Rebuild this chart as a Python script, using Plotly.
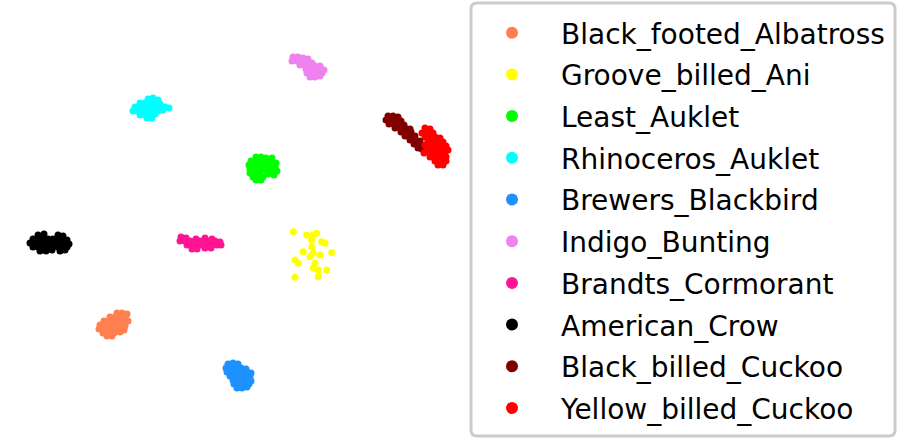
import plotly.graph_objects as go

class_names = ["Black_footed_Albatross", "Groove_billed_Ani", "Least_Auklet", "Rhinoceros_Auklet",
               "Brewers_Blackbird", "Indigo_Bunting", "Brandts_Cormorant", "American_Crow",
               "Black_billed_Cuckoo", "Yellow_billed_Cuckoo"]
class_colors = ["#FF7F50", "#FFFF00", "#00FF00", "#00FFFF", "#1E90FF", "#EE82EE", "#FF1493",
                "#000000", "#800000", "#FF0000"]

# 2-D embedding points (x, y), per class
albatross_pts = [(117,313),(122,313),(127,314),(110,317),(115,317),(120,317),(125,318),(104,321),(109,321),
                 (114,321),(119,321),(124,322),(128,321),(100,325),(105,325),(110,325),(115,325),(120,325),
                 (125,326),(99,329),(104,329),(109,329),(114,329),(119,329),(124,330),(103,333),(108,333),
                 (114,333),(120,332),(107,336),(112,336)]
ani_pts = [(293.3,231.7),(306.7,235),(313.3,235),(316.7,233.3),(321.7,241.7),(325,243.3),(311.7,246.7),
           (303.3,251.7),(313.3,253.3),(320,255),(331.7,252.7),(295,260),(298.3,263.3),(315,263.3),
           (313.3,268.3),(318.3,270),(326.7,270),(295,277.3),(318.3,276.7),(310,256.7),(311.7,240)]
least_auklet_pts = [(256,157),(261,157),(266,158),(272,158),(251,161),(256,161),(261,161),(266,161),(271,162),
                    (276,163),(249,165),(254,165),(259,165),(264,165),(270,166),(275,167),(250,169),(255,169),
                    (260,169),(266,170),(272,170),(277,171),(250,173),(255,173),(260,173),(268,174),(274,175),
                    (253,177),(258,177),(263,177),(256,180),(261,180)]
rhino_auklet_pts = [(148,99),(153,98),(158,100),(140,103),(145,103),(150,103),(155,103),(160,104),(135,107),
                    (140,107),(145,107),(150,107),(155,107),(160,107),(165,107),(169,108),(133,111),(138,111),
                    (143,111),(148,111),(153,111),(158,111),(163,110),(140,115),(145,115),(150,115),(155,114),
                    (147,118),(152,118)]
blackbird_pts = [(228,364),(233,363),(238,364),(226,368),(231,368),(236,368),(241,368),(246,369),(227,372),
                 (232,372),(237,372),(242,372),(247,372),(251,373),(230,376),(235,376),(240,376),(245,376),
                 (250,377),(233,380),(238,380),(243,380),(248,380),(251,381),(234,384),(239,384),(244,384),
                 (249,384),(237,388),(242,388),(247,387)]
bunting_pts = [(293,57),(298,57),(303,58),(308,59),(292,61),(297,61),(302,61),(307,62),(312,63),(300,65),
               (305,65),(310,65),(315,66),(320,66),(306,69),(311,69),(316,69),(321,69),(324,70),(307,73),
               (312,73),(317,73),(322,73),(310,77),(315,77),(320,76)]
cormorant_pts = [(181,237),(186,238),(196,239),(205,238),(212,239),(180,241),(185,241),(190,241),(195,241),
                 (200,241),(205,241),(210,241),(215,241),(220,242),(187,245),(192,245),(197,245),(202,245),
                 (207,245),(212,245),(217,245),(221,245),(192,249),(197,249),(205,248),(211,248)]
crow_pts = [(38,235),(44,234),(58,235),(63,236),(33,239),(38,239),(43,239),(48,239),(53,239),(58,239),
            (63,239),(67,240),(30,243),(35,243),(40,243),(45,243),(50,243),(55,243),(60,243),(65,243),
            (69,244),(33,247),(38,247),(43,247),(48,247),(53,247),(58,247),(63,247),(67,247),(40,251),
            (46,251),(52,250),(60,251),(65,250)]
bb_cuckoo_pts = [(388,116),(393,116),(398,117),(386,120),(391,120),(396,120),(401,121),(389,124),(394,124),
                 (399,124),(404,125),(395,128),(400,128),(405,128),(410,129),(401,132),(406,132),(411,132),
                 (405,136),(410,136),(415,136),(410,140),(415,140),(420,141),(414,144),(419,144),(418,148),
                 (422,149)]
yb_cuckoo_pts = [(425,128),(430,129),(422,133),(428,133),(433,133),(425,137),(430,137),(435,137),(440,138),
                 (428,141),(433,141),(438,141),(443,142),(425,145),(431,145),(436,145),(441,145),(446,146),
                 (428,149),(433,149),(438,149),(443,149),(448,150),(424,153),(430,153),(435,153),(440,153),
                 (445,153),(430,157),(436,157),(441,157),(446,157),(435,161),(440,161),(446,161),(438,165),
                 (443,165)]

all_pts = [albatross_pts, ani_pts, least_auklet_pts, rhino_auklet_pts, blackbird_pts, bunting_pts,
           cormorant_pts, crow_pts, bb_cuckoo_pts, yb_cuckoo_pts]

W, H = 904, 441

fig = go.Figure()
for name, color, pts in zip(class_names, class_colors, all_pts):
    fig.add_trace(go.Scatter(
        x=[p[0] for p in pts], y=[p[1] for p in pts], mode="markers", name=name,
        legendgroup=name,
        marker=dict(color=color, size=7, line=dict(width=0)),
    ))

# rounded legend frame (pixel-space paper coordinates)
x0, x1, y0, y1, r = 471, 895, 3, 436, 6
frame_path = (f"M {x0+r},{y0} L {x1-r},{y0} Q {x1},{y0} {x1},{y0+r} L {x1},{y1-r} Q {x1},{y1} {x1-r},{y1} "
              f"L {x0+r},{y1} Q {x0},{y1} {x0},{y1-r} L {x0},{y0+r} Q {x0},{y0} {x0+r},{y0} Z")
fig.add_shape(type="path", xref="x", yref="y", path=frame_path,
              line=dict(color="#cccccc", width=3), fillcolor="white", layer="below")

fig.update_layout(
    width=W, height=H,
    margin=dict(l=0, r=0, t=0, b=0),
    paper_bgcolor="white", plot_bgcolor="white",
    xaxis=dict(range=[0, W], visible=False),
    yaxis=dict(range=[H, 0], visible=False),
    font=dict(family="DejaVu Sans", color="black"),
    legend=dict(
        x=463/W, y=1 - 8/H, xanchor="left", yanchor="top",
        font=dict(size=28, family="DejaVu Sans", color="black"),
        borderwidth=0, bgcolor="rgba(0,0,0,0)",
        itemsizing="constant", itemwidth=88, tracegroupgap=2.3,
        traceorder="grouped",
    ),
    showlegend=True,
)

fig.write_html("out.html", post_script="document.body.style.margin='0';",
               config={"displayModeBar": False})
